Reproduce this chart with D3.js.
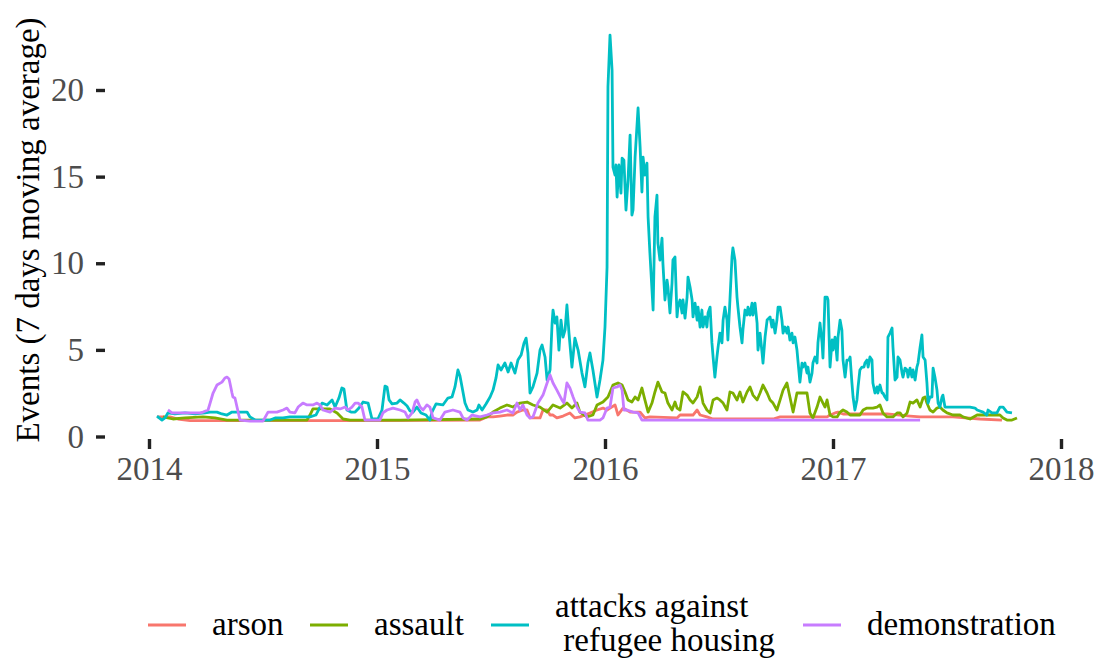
<!DOCTYPE html>
<html>
<head>
<meta charset="utf-8">
<script src="https://cdn.jsdelivr.net/npm/d3@7"></script>
<style>
  html, body { margin: 0; padding: 0; background: #fff; }
  svg { display: block; font-family: "Liberation Serif", "Times New Roman", serif; }
</style>
</head>
<body>
<svg id="chart" width="1102" height="662"></svg>
<script>
// ---- data (time in decimal years, value = 7-day moving average of events) ----
const categories = ["arson", "assault", "attacks against\nrefugee housing", "demonstration"];
const seriesColors = ["#F8766D", "#7CAE00", "#00BFC4", "#C77CFF"];
const xTickValues = [2014, 2015, 2016, 2017, 2018];
const yTickValues = [0, 5, 10, 15, 20];
const yTitle = "Events (7 days moving average)";

const arsonData = [
  [2014.035,1.13],[2014.092,1.13],[2014.127,1.01],[2014.180,0.92],[2014.662,0.92],[2015.000,0.92],
  [2015.452,0.95],[2015.482,1.13],[2015.509,1.13],[2015.539,1.18],[2015.570,1.24],[2015.596,1.24],
  [2015.614,1.41],[2015.640,1.53],[2015.658,1.53],[2015.671,1.07],[2015.715,1.07],[2015.728,1.53],
  [2015.746,1.53],[2015.759,1.24],[2015.772,1.24],[2015.789,1.07],[2015.816,1.18],[2015.846,1.36],
  [2015.868,1.07],[2015.890,1.13],[2015.934,1.36],[2015.965,1.53],[2015.991,1.64],[2016.009,1.53],
  [2016.022,1.64],[2016.044,1.82],[2016.057,1.24],[2016.079,1.64],[2016.110,1.41],[2016.154,1.41],
  [2016.175,1.07],[2016.197,1.13],[2016.316,1.07],[2016.329,1.24],[2016.386,1.24],[2016.404,1.53],
  [2016.417,1.24],[2016.447,1.13],[2016.474,1.01],[2016.737,1.01],[2016.768,1.13],[2016.974,1.13],
  [2016.987,1.24],[2017.009,1.36],[2017.022,1.41],[2017.044,1.30],[2017.237,1.30],[2017.338,1.18],
  [2017.382,1.13],[2017.526,1.13],[2017.645,1.01],[2017.741,0.95]
];

const assaultData = [
  [2014.061,1.13],[2014.105,1.01],[2014.158,1.07],[2014.237,1.13],[2014.289,1.07],[2014.342,0.95],
  [2014.443,0.95],[2014.693,0.95],[2014.706,1.24],[2014.719,1.59],[2014.794,1.59],[2014.825,1.36],
  [2014.851,1.01],[2014.882,0.95],[2015.101,0.95],[2015.452,1.01],[2015.482,1.13],[2015.509,1.41],
  [2015.539,1.64],[2015.570,1.82],[2015.596,1.70],[2015.627,1.93],[2015.658,1.99],[2015.684,1.82],
  [2015.715,1.70],[2015.746,1.41],[2015.772,1.82],[2015.803,1.64],[2015.833,1.93],[2015.855,1.64],
  [2015.877,1.93],[2015.890,1.41],[2015.921,1.13],[2015.947,1.24],[2015.965,1.82],[2015.991,1.99],
  [2016.013,2.28],[2016.035,2.97],[2016.057,3.09],[2016.075,2.97],[2016.088,2.57],[2016.101,2.11],
  [2016.118,1.99],[2016.132,2.28],[2016.145,2.11],[2016.162,2.80],[2016.175,2.11],[2016.189,1.41],
  [2016.206,1.93],[2016.219,2.57],[2016.232,3.14],[2016.250,2.57],[2016.263,2.51],[2016.276,1.93],
  [2016.294,1.53],[2016.307,1.99],[2016.316,1.64],[2016.329,1.53],[2016.342,2.57],[2016.360,2.39],
  [2016.373,2.11],[2016.386,1.93],[2016.404,2.28],[2016.417,2.86],[2016.430,1.93],[2016.447,1.53],
  [2016.461,1.36],[2016.474,2.11],[2016.491,2.22],[2016.504,2.11],[2016.518,1.93],[2016.535,1.53],
  [2016.548,2.57],[2016.561,2.51],[2016.579,2.11],[2016.592,2.57],[2016.605,1.99],[2016.623,2.57],
  [2016.636,2.86],[2016.649,2.39],[2016.667,2.11],[2016.680,2.51],[2016.693,2.97],[2016.711,2.51],
  [2016.724,2.11],[2016.737,1.93],[2016.754,1.53],[2016.768,2.11],[2016.781,2.68],[2016.798,3.09],
  [2016.811,2.28],[2016.825,1.41],[2016.842,2.51],[2016.855,2.51],[2016.886,2.51],[2016.899,1.36],
  [2016.912,1.07],[2016.930,1.70],[2016.943,2.28],[2016.956,1.93],[2016.965,1.70],[2016.974,2.11],
  [2016.987,1.24],[2017.000,1.13],[2017.018,1.13],[2017.031,1.41],[2017.044,1.53],[2017.061,1.41],
  [2017.075,1.24],[2017.118,1.24],[2017.132,1.53],[2017.149,1.64],[2017.175,1.64],[2017.193,1.70],
  [2017.206,1.82],[2017.219,1.36],[2017.237,1.13],[2017.263,1.13],[2017.281,1.36],[2017.294,1.36],
  [2017.307,1.13],[2017.325,1.36],[2017.338,1.99],[2017.351,1.93],[2017.368,2.11],[2017.382,1.70],
  [2017.395,2.22],[2017.404,2.28],[2017.412,1.93],[2017.425,1.53],[2017.439,1.41],[2017.456,1.64],
  [2017.469,1.70],[2017.482,1.53],[2017.500,1.36],[2017.526,1.24],[2017.557,1.24],[2017.570,1.13],
  [2017.601,1.01],[2017.632,1.24],[2017.732,1.24],[2017.746,1.07],[2017.763,0.95],[2017.785,0.95],
  [2017.807,1.07]
];

const attacksData = [
  [2014.035,1.18],[2014.057,0.95],[2014.070,1.07],[2014.083,1.36],[2014.114,1.30],[2014.158,1.36],
  [2014.202,1.30],[2014.246,1.36],[2014.268,1.41],[2014.298,1.41],[2014.320,1.30],[2014.342,1.24],
  [2014.364,1.41],[2014.399,1.41],[2014.430,1.41],[2014.443,1.13],[2014.465,0.95],[2014.496,0.95],
  [2014.531,0.95],[2014.553,1.07],[2014.588,1.07],[2014.618,1.13],[2014.662,1.13],[2014.706,1.13],
  [2014.732,1.24],[2014.759,1.93],[2014.781,1.82],[2014.803,2.11],[2014.816,1.70],[2014.833,2.22],
  [2014.846,2.80],[2014.855,2.74],[2014.868,1.53],[2014.886,1.41],[2014.904,1.41],[2014.921,1.64],
  [2014.939,1.99],[2014.961,1.93],[2014.978,1.01],[2015.004,1.01],[2015.022,1.53],[2015.035,2.91],
  [2015.044,2.86],[2015.053,2.11],[2015.066,1.88],[2015.088,1.93],[2015.101,2.11],[2015.118,1.93],
  [2015.132,1.76],[2015.145,1.47],[2015.158,1.41],[2015.175,1.70],[2015.193,1.36],[2015.215,1.24],
  [2015.232,0.95],[2015.241,1.41],[2015.259,1.88],[2015.289,1.82],[2015.311,2.22],[2015.329,2.28],
  [2015.342,2.86],[2015.355,3.84],[2015.364,3.49],[2015.373,2.86],[2015.386,1.93],[2015.399,1.53],
  [2015.421,1.41],[2015.439,1.53],[2015.447,1.82],[2015.461,1.53],[2015.478,1.88],[2015.496,2.28],
  [2015.509,2.68],[2015.522,3.38],[2015.531,4.13],[2015.544,3.84],[2015.561,4.24],[2015.575,3.72],
  [2015.588,4.24],[2015.605,3.66],[2015.618,4.41],[2015.632,4.70],[2015.645,5.40],[2015.654,5.68],
  [2015.662,4.82],[2015.671,2.51],[2015.684,2.86],[2015.702,3.66],[2015.715,4.99],[2015.724,5.28],
  [2015.737,4.59],[2015.746,3.26],[2015.759,3.84],[2015.768,6.55],[2015.772,7.30],[2015.781,6.55],
  [2015.789,6.90],[2015.798,4.99],[2015.807,6.72],[2015.816,5.74],[2015.825,6.15],[2015.833,7.59],
  [2015.842,5.97],[2015.855,4.01],[2015.868,5.68],[2015.882,4.99],[2015.899,3.66],[2015.912,2.86],
  [2015.925,4.24],[2015.934,4.82],[2015.947,3.84],[2015.965,2.28],[2015.978,3.26],[2015.991,4.41],
  [2016.000,6.32],[2016.009,9.78],[2016.013,20.17],[2016.022,23.17],[2016.031,21.15],[2016.035,15.55],
  [2016.044,15.09],[2016.048,15.67],[2016.053,13.82],[2016.061,15.67],[2016.070,14.05],[2016.075,16.07],
  [2016.083,15.95],[2016.092,13.07],[2016.101,14.80],[2016.110,17.40],[2016.118,12.78],[2016.123,13.07],
  [2016.132,16.13],[2016.145,18.96],[2016.154,16.71],[2016.162,14.11],[2016.167,16.13],[2016.175,15.09],
  [2016.184,15.78],[2016.189,12.67],[2016.197,10.59],[2016.211,7.30],[2016.219,12.67],[2016.228,13.93],
  [2016.232,11.17],[2016.241,10.18],[2016.250,11.45],[2016.254,10.01],[2016.263,7.88],[2016.272,9.03],
  [2016.276,8.63],[2016.285,7.13],[2016.294,8.86],[2016.298,10.18],[2016.307,10.36],[2016.316,6.90],
  [2016.320,7.47],[2016.329,7.88],[2016.338,7.13],[2016.342,7.88],[2016.351,6.84],[2016.360,8.05],
  [2016.364,9.20],[2016.373,8.63],[2016.382,7.88],[2016.386,6.90],[2016.395,7.70],[2016.404,6.72],
  [2016.408,7.47],[2016.417,6.32],[2016.425,7.30],[2016.430,6.32],[2016.439,6.90],[2016.447,6.32],
  [2016.452,7.13],[2016.461,7.47],[2016.469,5.40],[2016.474,4.59],[2016.482,3.43],[2016.491,4.59],
  [2016.496,5.16],[2016.504,5.97],[2016.513,5.40],[2016.518,6.72],[2016.526,7.47],[2016.535,6.72],
  [2016.539,5.57],[2016.548,7.88],[2016.557,10.36],[2016.561,10.88],[2016.570,10.18],[2016.579,8.05],
  [2016.583,7.47],[2016.592,6.32],[2016.601,5.40],[2016.605,6.15],[2016.614,7.30],[2016.623,7.01],
  [2016.627,7.47],[2016.636,7.01],[2016.645,7.70],[2016.649,7.01],[2016.658,7.70],[2016.667,6.55],
  [2016.671,4.99],[2016.680,5.97],[2016.689,4.82],[2016.693,4.24],[2016.702,5.74],[2016.711,6.72],
  [2016.724,6.90],[2016.732,6.32],[2016.737,6.72],[2016.746,5.97],[2016.754,6.72],[2016.759,7.47],
  [2016.768,7.47],[2016.776,6.72],[2016.781,5.97],[2016.789,6.32],[2016.798,5.97],[2016.803,6.32],
  [2016.811,5.57],[2016.820,5.97],[2016.825,5.40],[2016.833,5.74],[2016.842,4.99],[2016.846,4.41],
  [2016.855,3.14],[2016.864,4.24],[2016.868,4.01],[2016.877,4.24],[2016.886,3.66],[2016.890,4.01],
  [2016.899,3.14],[2016.908,3.66],[2016.912,4.24],[2016.921,4.59],[2016.930,4.24],[2016.934,5.40],
  [2016.943,6.55],[2016.952,5.40],[2016.956,4.53],[2016.965,8.05],[2016.974,8.05],[2016.978,7.88],
  [2016.987,4.01],[2016.996,5.57],[2017.000,4.99],[2017.009,5.74],[2017.018,4.41],[2017.022,5.74],
  [2017.031,6.72],[2017.039,6.15],[2017.044,4.41],[2017.053,3.43],[2017.061,4.41],[2017.070,4.41],
  [2017.075,4.59],[2017.083,3.09],[2017.088,2.28],[2017.096,1.53],[2017.105,2.11],[2017.110,2.86],
  [2017.118,3.84],[2017.127,4.01],[2017.136,4.01],[2017.140,4.24],[2017.149,4.41],[2017.154,4.01],
  [2017.162,4.59],[2017.171,4.41],[2017.175,3.09],[2017.184,2.51],[2017.193,2.86],[2017.197,2.51],
  [2017.206,2.97],[2017.215,2.51],[2017.219,2.51],[2017.228,2.28],[2017.237,2.11],[2017.241,5.74],
  [2017.250,5.97],[2017.259,6.26],[2017.263,5.16],[2017.272,3.26],[2017.281,3.43],[2017.285,4.59],
  [2017.294,4.41],[2017.303,3.66],[2017.307,3.43],[2017.316,3.95],[2017.325,3.84],[2017.329,3.43],
  [2017.338,3.95],[2017.346,3.43],[2017.351,3.84],[2017.360,3.26],[2017.368,4.01],[2017.373,4.24],
  [2017.382,5.16],[2017.390,5.86],[2017.395,4.59],[2017.404,4.41],[2017.412,3.09],[2017.417,1.93],
  [2017.425,2.28],[2017.434,2.28],[2017.439,3.95],[2017.447,3.43],[2017.456,2.68],[2017.461,1.93],
  [2017.469,1.70],[2017.478,2.28],[2017.482,2.39],[2017.491,1.70],[2017.513,1.70],[2017.557,1.70],
  [2017.601,1.70],[2017.623,1.64],[2017.632,1.53],[2017.658,1.41],[2017.675,1.24],[2017.680,1.53],
  [2017.697,1.36],[2017.719,1.36],[2017.732,1.70],[2017.746,1.70],[2017.763,1.41],[2017.785,1.36]
];

const demonstrationData = [
  [2014.083,1.53],[2014.101,1.36],[2014.123,1.36],[2014.180,1.36],[2014.224,1.36],[2014.237,1.41],
  [2014.259,1.53],[2014.268,1.93],[2014.281,2.51],[2014.298,2.97],[2014.320,3.14],[2014.333,3.38],
  [2014.342,3.43],[2014.351,3.32],[2014.355,3.09],[2014.364,2.51],[2014.368,2.28],[2014.377,2.22],
  [2014.386,1.70],[2014.399,0.95],[2014.443,0.89],[2014.500,0.89],[2014.522,1.41],[2014.561,1.41],
  [2014.588,1.53],[2014.605,1.64],[2014.618,1.41],[2014.640,1.36],[2014.654,1.70],[2014.675,1.93],
  [2014.693,1.82],[2014.719,1.82],[2014.737,1.93],[2014.750,1.82],[2014.763,1.53],[2014.794,1.41],
  [2014.816,1.64],[2014.838,1.59],[2014.860,1.70],[2014.873,1.53],[2014.890,1.70],[2014.904,1.93],
  [2014.917,1.93],[2014.934,1.70],[2014.947,0.95],[2015.013,0.95],[2015.026,1.36],[2015.044,1.53],
  [2015.070,1.64],[2015.101,1.53],[2015.123,1.41],[2015.136,1.07],[2015.154,1.36],[2015.167,1.99],
  [2015.175,2.11],[2015.189,1.70],[2015.202,1.53],[2015.219,1.82],[2015.232,1.70],[2015.246,1.07],
  [2015.276,0.95],[2015.298,1.41],[2015.333,1.53],[2015.364,1.41],[2015.377,1.07],[2015.395,0.95],
  [2015.417,1.24],[2015.452,1.13],[2015.482,1.24],[2015.509,1.36],[2015.539,1.41],[2015.570,1.53],
  [2015.596,1.36],[2015.614,1.93],[2015.627,1.53],[2015.640,1.82],[2015.658,1.24],[2015.671,1.07],
  [2015.684,1.13],[2015.706,1.93],[2015.728,2.39],[2015.746,3.09],[2015.759,3.55],[2015.772,3.09],
  [2015.789,2.68],[2015.811,2.11],[2015.820,1.93],[2015.833,3.09],[2015.846,2.80],[2015.860,2.28],
  [2015.877,1.70],[2015.890,1.41],[2015.912,1.36],[2015.925,0.95],[2015.978,0.95],[2015.991,1.07],
  [2016.009,1.64],[2016.022,1.70],[2016.035,2.80],[2016.053,2.86],[2016.066,2.97],[2016.075,2.68],
  [2016.083,1.53],[2016.096,1.53],[2016.123,1.41],[2016.145,1.36],[2016.162,0.95],[2016.329,0.95],
  [2017.382,0.95]
];

const seriesData = [arsonData, assaultData, attacksData, demonstrationData];

// ---- layout ----
const svg = d3.select("#chart");
const panel = { left: 105, right: 1100, top: 17, bottom: 439 };

const x = d3.scaleLinear().domain([2014, 2018]).range([149, 1061]);
const y = d3.scaleLinear().domain([0, 20]).range([436.5, 90]);

const FONT = 33;
const FAMILY = "Liberation Serif, Times New Roman, serif";

// y axis
const yAxis = svg.append("g")
  .attr("transform", `translate(${panel.left},0)`)
  .call(d3.axisLeft(y).tickValues(yTickValues).tickSize(9).tickPadding(12).tickFormat(d3.format("d")));
yAxis.select(".domain").remove();
yAxis.selectAll(".tick line").attr("stroke", "#222222").attr("stroke-width", 3.4);
yAxis.selectAll(".tick text").attr("fill", "#4D4D4D").attr("font-size", FONT).attr("font-family", FAMILY);

// x axis
const xAxis = svg.append("g")
  .attr("transform", `translate(0,${panel.bottom})`)
  .call(d3.axisBottom(x).tickValues(xTickValues).tickSize(10).tickPadding(8).tickFormat(d3.format("d")));
xAxis.select(".domain").remove();
xAxis.selectAll(".tick line").attr("stroke", "#222222").attr("stroke-width", 3.4);
xAxis.selectAll(".tick text").attr("fill", "#4D4D4D").attr("font-size", FONT).attr("font-family", FAMILY);

// y title
svg.append("text")
  .attr("transform", `translate(39,${(panel.top + panel.bottom) / 2 + 2}) rotate(-90)`)
  .attr("text-anchor", "middle")
  .attr("font-size", FONT)
  .attr("fill", "#000")
  .text(yTitle);

// lines
const line = d3.line().x(d => x(d[0])).y(d => y(d[1]));
svg.append("g").selectAll("path")
  .data(seriesData)
  .join("path")
  .attr("d", d => line(d))
  .attr("fill", "none")
  .attr("stroke", (d, i) => seriesColors[i])
  .attr("stroke-width", 2.8)
  .attr("stroke-linejoin", "round")
  .attr("stroke-linecap", "butt");

// legend
const legendY = 625;
const keyX = [148, 310, 491, 803];
const legend = svg.append("g");
categories.forEach((c, i) => {
  legend.append("line")
    .attr("x1", keyX[i]).attr("x2", keyX[i] + 38)
    .attr("y1", legendY).attr("y2", legendY)
    .attr("stroke", seriesColors[i]).attr("stroke-width", 3);
  const lines = c.split("\n");
  const t = legend.append("text")
    .attr("x", keyX[i] + 64)
    .attr("font-size", FONT)
    .attr("fill", "#000")
    .attr("xml:space", "preserve")
    .style("white-space", "pre");
  if (lines.length === 1) {
    t.attr("y", legendY + 10).text(lines[0]);
  } else {
    lines.forEach((ln, j) => {
      t.append("tspan")
        .attr("x", keyX[i] + 64)
        .attr("y", legendY - 8 + j * 34)
        .text(j === 0 ? ln : " " + ln);
    });
  }
});
</script>
</body>
</html>
